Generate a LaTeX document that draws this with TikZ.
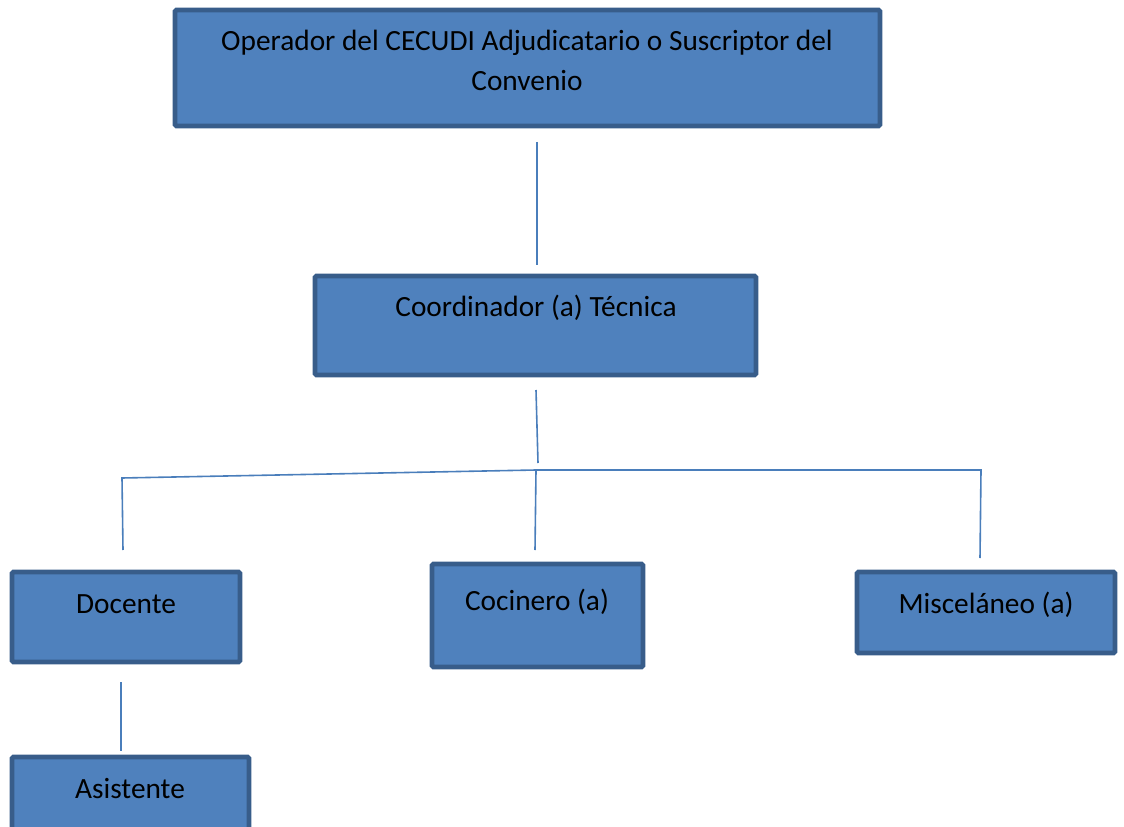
\documentclass[tikz,border=0pt]{standalone}
\usepackage{fontspec}
\setmainfont{Carlito}
\definecolor{boxfill}{HTML}{4F81BD}
\definecolor{boxline}{HTML}{385D8A}
\definecolor{conn}{HTML}{4A7EBB}
\begin{document}
\begin{tikzpicture}[x=0.75pt,y=-0.75pt,
  box/.style={draw=boxline,fill=boxfill,line width=3.4pt,rounded corners=1pt,inner sep=0pt,outer sep=0pt},
  lbl/.style={font=\fontsize{22}{30}\selectfont,text=black,inner sep=0pt,anchor=base,align=center},
  link/.style={draw=conn,line width=1.2pt}]
\useasboundingbox (0,0) rectangle (1124,827);
\clip (0,0) rectangle (1124,827);
% boxes
\node[box,minimum width=705*0.75pt,minimum height=116*0.75pt] (op) at (527.5,68) {};
\node[box,minimum width=441*0.75pt,minimum height=99*0.75pt] (coord) at (535.5,325.5) {};
\node[box,minimum width=228*0.75pt,minimum height=90*0.75pt] (doc) at (126,617) {};
\node[box,minimum width=237*0.75pt,minimum height=90*0.75pt] (asis) at (130.5,802) {};
\node[box,minimum width=211*0.75pt,minimum height=103*0.75pt] (coc) at (537.5,615.5) {};
\node[box,minimum width=258*0.75pt,minimum height=81*0.75pt] (misc) at (986,612.5) {};
% labels
\node[lbl] (opt1) at (527,51) {Operador del CECUDI Adjudicatario o Suscriptor del};
\node[lbl] (opt2) at (527,91) {Convenio};
\node[lbl] (coordt) at (536,316) {Coordinador (a) Técnica};
\node[lbl] (doct) at (126,613) {Docente};
\node[lbl] (asist) at (130,798) {Asistente};
\node[lbl] (coct) at (537,610) {Cocinero (a)};
\node[lbl] (misct) at (986,613) {Misceláneo (a)};
% connector end points
\coordinate (a1) at (537,142);
\coordinate (a2) at (537,265);
\coordinate (b1) at (536,390);
\coordinate (b2) at (538,463);
\coordinate (hl) at (122,478);
\coordinate (hm) at (536,470);
\coordinate (hr) at (981,470);
\coordinate (dl) at (123,550);
\coordinate (dm) at (535,550);
\coordinate (dr) at (980,558);
\coordinate (e1) at (121,682);
\coordinate (e2) at (121,751);
% connectors
\draw[link] (a1) -- (a2);
\draw[link] (b1) -- (b2);
\draw[link] (dl) -- (hl) -- (hm) -- (hr) -- (dr);
\draw[link] (hm) -- (dm);
\draw[link] (e1) -- (e2);
\end{tikzpicture}
\end{document}
